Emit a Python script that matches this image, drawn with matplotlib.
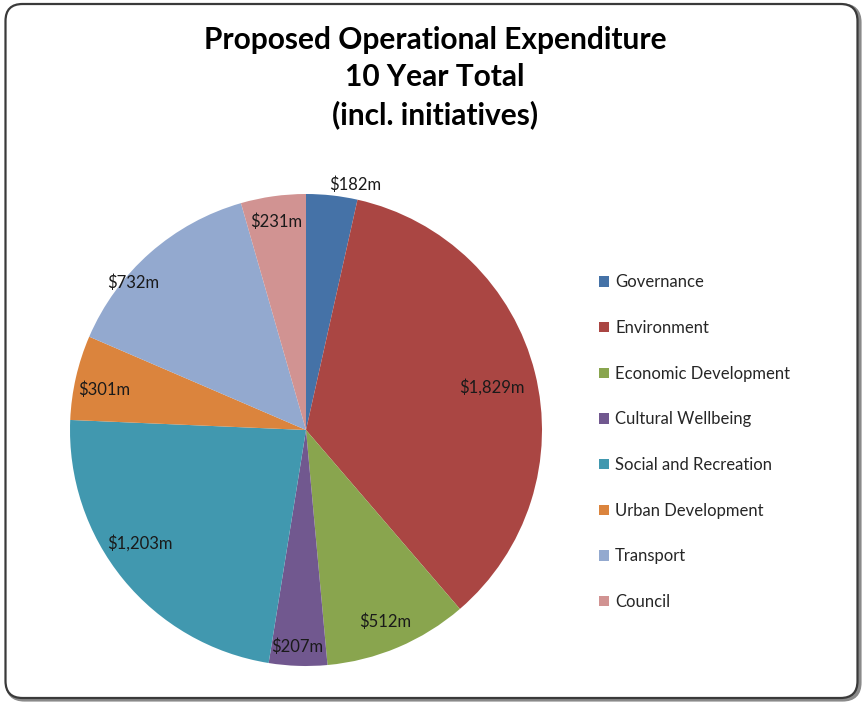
import matplotlib
matplotlib.use("Agg")
import matplotlib.pyplot as plt
import numpy as np
from matplotlib.patches import FancyBboxPatch, Patch

categories = ["Governance", "Environment", "Economic Development", "Cultural Wellbeing",
              "Social and Recreation", "Urban Development", "Transport", "Council"]
values = [182, 1829, 512, 207, 1203, 301, 732, 231]
value_labels = ["$182m", "$1,829m", "$512m", "$207m", "$1,203m", "$301m", "$732m", "$231m"]
colors = ["#4572A7", "#AA4643", "#89A54E", "#71588F", "#4198AF", "#DB843D", "#93A9CF", "#D19392"]

# label placement (radius fraction, angular shift in degrees, clockwise positive)
label_r = [1.06, 0.81, 0.88, 0.92, 0.85, 0.87, 0.96, 0.89]
label_shift = [5.0, 1.0, 0.4, 0.4, 5.0, -1.6, -8.2, -0.2]

W, H = 867, 704
fig = plt.figure(figsize=(W / 100, H / 100), dpi=100)
fig.patch.set_facecolor("white")

# border with shadow
shadow = FancyBboxPatch((7.5 / 100, 4.5 / 100), (W - 15) / 100, (H - 10) / 100,
                        boxstyle="round,pad=0,rounding_size=0.17",
                        transform=fig.dpi_scale_trans, facecolor="none",
                        edgecolor="#8a8a8a", linewidth=3.0, zorder=0)
fig.patches.append(shadow)
border = FancyBboxPatch((5.5 / 100, 6.0 / 100), (W - 15) / 100, (H - 10) / 100,
                        boxstyle="round,pad=0,rounding_size=0.17",
                        transform=fig.dpi_scale_trans, facecolor="white",
                        edgecolor="#3a3a3a", linewidth=1.6, zorder=1)
fig.patches.append(border)

cx, cy, R = 306, 430, 236
ax = fig.add_axes([(cx - R) / W, (H - cy - R) / H, 2 * R / W, 2 * R / H])
ax.set_zorder(2)
wedges, _ = ax.pie(values, colors=colors, startangle=90, counterclock=False,
                   radius=1.0, wedgeprops=dict(linewidth=0))
ax.set_xlim(-1, 1)
ax.set_ylim(-1, 1)
ax.set_aspect("equal")
ax.axis("off")

for w, lab, rf, sh in zip(wedges, value_labels, label_r, label_shift):
    mid = np.deg2rad((w.theta1 + w.theta2) / 2 - sh)
    ax.text(rf * np.cos(mid), rf * np.sin(mid), lab, ha="center", va="center",
            fontsize=12, family="Lato", color="#1a1a1a", clip_on=False)

fig.text(435 / W, 1 - 77.5 / H, "Proposed Operational Expenditure\n10 Year Total\n(incl. initiatives)",
         ha="center", va="center", fontsize=21.5, fontweight="bold", family="Lato",
         linespacing=1.38, color="black")

handles = [Patch(facecolor=c, edgecolor="none") for c in colors]
leg = fig.legend(handles, categories, loc="upper left",
                 bbox_to_anchor=(591 / W, 1 - 266 / H), frameon=False,
                 prop=dict(family="Lato", size=12), labelcolor="#262626",
                 handlelength=0.6, handleheight=0.6, handletextpad=0.35,
                 labelspacing=1.78, borderpad=0)

fig.savefig("out.png", dpi=100, facecolor="white")
